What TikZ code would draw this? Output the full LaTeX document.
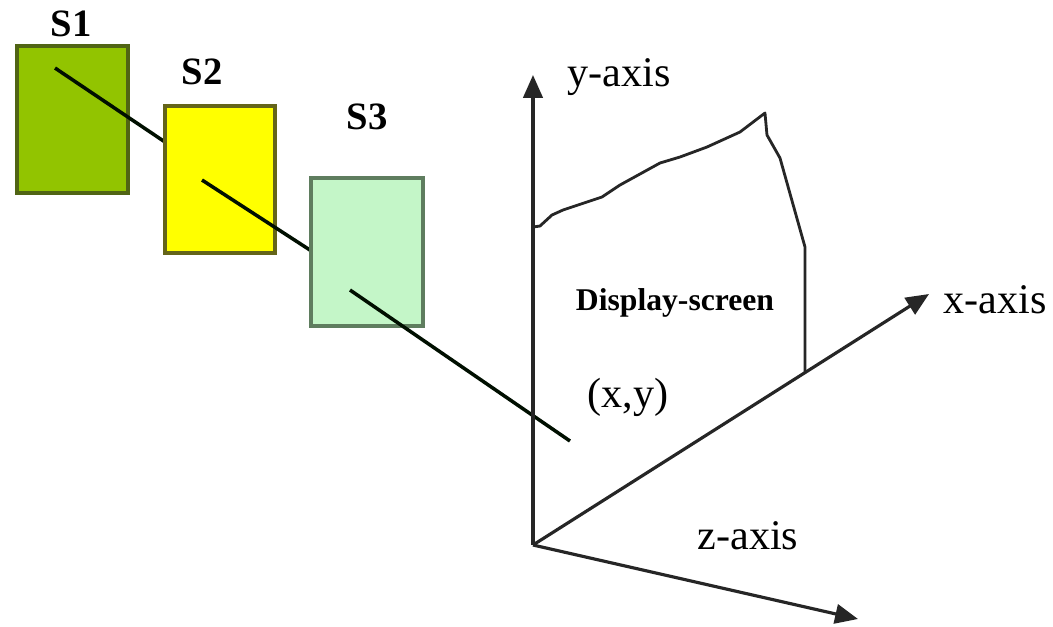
\documentclass[tikz,border=0pt]{standalone}
\usepackage{fontspec}
\setmainfont{Liberation Serif}
\usepackage{tikz}
\usetikzlibrary{arrows.meta}
\definecolor{sonegreen}{RGB}{146,196,0}
\definecolor{stwoyellow}{RGB}{255,255,0}
\definecolor{sthreegreen}{RGB}{196,246,200}
\tikzset{
    boxstyle/.style={
        draw,
        line width=1.1pt,
        minimum width=1.11cm,
        minimum height=1.47cm,
        inner sep=0pt
    },
    % axes with solid triangle heads
    axisarrow/.style={
        line width=0.9pt,
        black!85,
        ->,
        >={Triangle[length=6.5pt, width=5.5pt]}
    },
    rayline/.style={
        line width=1pt,
        black!85!green!40!black
    }
}

\begin{document}
\begin{tikzpicture}[x=0.01cm, y=-0.01cm]
        \useasboundingbox (0,0) rectangle (1053,626);

        \path
        (533,545) coordinate (o)
        (533,75)  coordinate (ytip)
        (929,294) coordinate (xtip)
        (858,619) coordinate (ztip)
        (55,68)   coordinate (r1)
        (165,142) coordinate (r2)
        (202,180) coordinate (r3)
        (313,252) coordinate (r4)
        (350,290) coordinate (r5)
        (570,441) coordinate (r6)
        (533,227) coordinate (d0)
        (805,373) coordinate (d1)
        ;

        \node[boxstyle, fill=sonegreen, draw={rgb,255:red,80;green,100;blue,20}] (sone) at (72.5,119.5) {};
        \draw[rayline] (r1) -- (r2);
        \node[boxstyle, fill=stwoyellow, draw={rgb,255:red,100;green,100;blue,25}, minimum width=1.10cm] (stwo) at (220,179.5) {};
        \draw[rayline] (r3) -- (r4);
        \node[boxstyle, fill=sthreegreen, draw={rgb,255:red,95;green,125;blue,95}, minimum width=1.12cm, minimum height=1.48cm] (sthree) at (367,252) {};
        \draw[rayline] (r5) -- (r6);

        \node[font=\bfseries\fontsize{11}{13}\selectfont] (slabelone) at (71,24) {S1};
        \node[font=\bfseries\fontsize{11}{13}\selectfont] (slabeltwo) at (202,72) {S2};
        \node[font=\bfseries\fontsize{11}{13}\selectfont] (slabelthree) at (367,117) {S3};

        % display screen outline
        \draw[line width=0.8pt, black!85, line join=round] (d0) -- (540,226) -- (552,215) -- (563,210)
            -- (602,197) -- (620,185) -- (660,163) -- (680,157) -- (707,147) -- (740,132)
            -- (765,113) -- (767,135) -- (780,158) -- (805,247) -- (d1);

        \draw[axisarrow] (o) -- (ytip);
        \draw[axisarrow] (o) -- (xtip);
        \draw[axisarrow] (o) -- (ztip);

        \node[font=\fontsize{12}{14}\selectfont] (ylabel) at (619,77) {y-axis};
        \node[font=\fontsize{12}{14}\selectfont] (xlabel) at (995,300) {x-axis};
        \node[font=\fontsize{12}{14}\selectfont] (zlabel) at (748,536) {z-axis};
        \node[font=\fontsize{12}{14}\selectfont] (pointlabel) at (628,397) {(x,y)};
        \node[font=\bfseries\fontsize{9}{11}\selectfont] (screenlabel) at (675,303) {Display-screen};

\end{tikzpicture}
\end{document}
